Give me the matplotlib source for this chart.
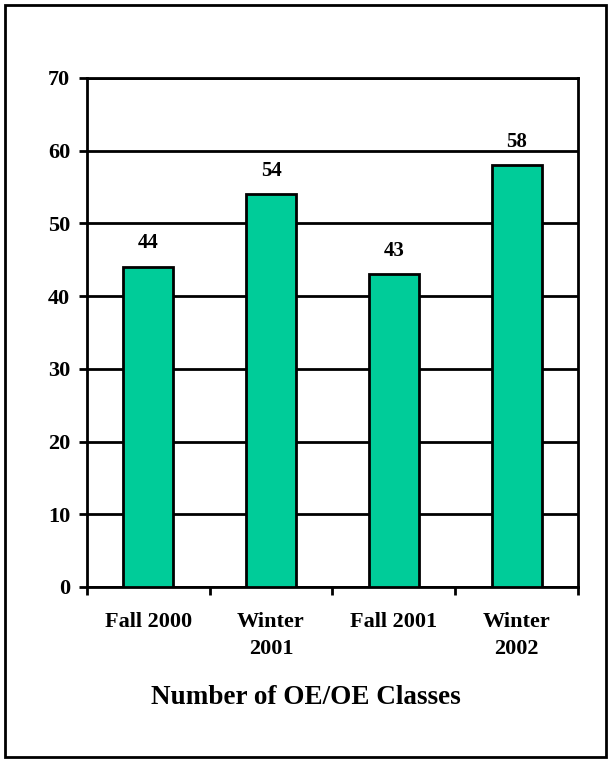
import matplotlib.pyplot as plt
from matplotlib.patches import Rectangle

# class counts per term
terms = ["Fall 2000", "Winter\n2001", "Fall 2001", "Winter\n2002"]
counts = [44, 54, 43, 58]
yticks = [0, 10, 20, 30, 40, 50, 60, 70]

plt.rcParams['font.family'] = ['Liberation Serif', 'DejaVu Serif']
plt.rcParams['font.weight'] = 'bold'

fig = plt.figure(figsize=(6.11, 7.62), dpi=100)
ax = fig.add_axes([0.1419, 0.2297, 0.8045, 0.668])

x = range(len(terms))
bars = ax.bar(x, counts, width=0.41, color='#00CC99', edgecolor='black',
              linewidth=2, zorder=3)

for b, v in zip(bars, counts):
    ax.annotate(str(v), (b.get_x() + b.get_width() / 2, v),
                xytext=(0, 17), textcoords='offset points',
                ha='center', va='center', fontsize=15, fontweight='bold')

ax.set_xlim(-0.5, len(terms) - 0.5)
ax.set_ylim(0, 70)
ax.set_yticks(yticks)
ax.set_yticklabels([str(t) for t in yticks], fontsize=16, fontweight='bold')
ax.yaxis.grid(True, color='black', linewidth=2, zorder=0)
ax.set_axisbelow(True)

# category boundaries carry the x ticks, labels sit under the bars
ax.set_xticks([i - 0.5 for i in range(len(terms) + 1)])
ax.set_xticklabels([])
ax.set_xticks(list(x), minor=True)
ax.set_xticklabels(terms, minor=True, fontsize=16, fontweight='bold',
                   linespacing=1.45)
ax.tick_params(axis='x', which='major', direction='out', length=5.5, width=2)
ax.tick_params(axis='x', which='minor', length=0, pad=18)
ax.tick_params(axis='y', direction='out', length=6, width=2, pad=6)

for s in ax.spines.values():
    s.set_linewidth(2)
    s.set_color('black')

fig.text(0.5, 0.085, "Number of OE/OE Classes", ha='center', va='center',
         fontsize=19.5, fontweight='bold')

# frame around the whole chart
fig.patches.append(Rectangle((5 / 611, 5 / 762), 601 / 611, 752 / 762,
                             transform=fig.transFigure, fill=False,
                             edgecolor='black', linewidth=2))

fig.savefig('out.png', dpi=100)
